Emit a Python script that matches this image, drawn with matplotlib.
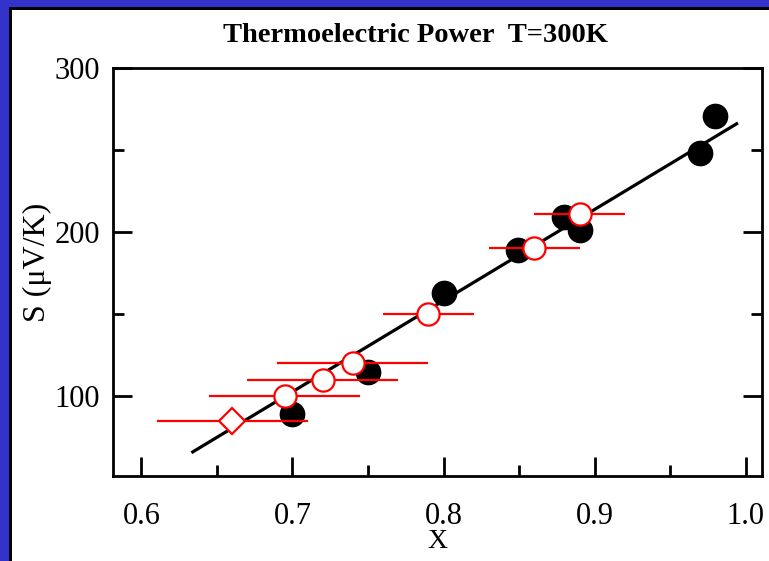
import matplotlib
matplotlib.use("Agg")
import matplotlib.pyplot as plt
from matplotlib.patches import Rectangle
from matplotlib.ticker import MultipleLocator

# Data
x_filled = [0.700, 0.750, 0.800, 0.849, 0.880, 0.890, 0.970, 0.980]
s_filled = [89, 115, 163, 189, 209, 201, 248, 271]

x_open = [0.695, 0.720, 0.740, 0.790, 0.860, 0.890]
s_open = [100, 110, 120, 150, 190, 211]
xerr_open = [0.05, 0.05, 0.05, 0.03, 0.03, 0.03]

x_diamond = [0.660]
s_diamond = [85]
xerr_diamond = [0.05]

fit_x = [0.634, 0.994]
fit_y = [66, 266]

x_ticks = [0.6, 0.7, 0.8, 0.9, 1.0]
x_ticklabels = ['0.6', '0.7', '0.8', '0.9', '1.0']
y_ticks = [100, 200, 300]
y_ticklabels = ['100', '200', '300']

plt.rcParams['font.family'] = ['Liberation Serif', 'DejaVu Serif']

W, H = 769, 561
fig = plt.figure(figsize=(W / 100, H / 100), dpi=100)
fig.patch.set_facecolor('white')

# blue frame (left and top)
fig.patches.append(Rectangle((0, 0), 9 / W, 1, transform=fig.transFigure,
                             facecolor='#3333cc', edgecolor='none', zorder=0))
fig.patches.append(Rectangle((9 / W, 0), 3 / W, 1 - 7 / H, transform=fig.transFigure,
                             facecolor='black', edgecolor='none', zorder=0))
fig.patches.append(Rectangle((0, 1 - 7 / H), 1, 7 / H, transform=fig.transFigure,
                             facecolor='#3333cc', edgecolor='none', zorder=0))
fig.patches.append(Rectangle((9 / W, 1 - 9.5 / H), 1, 2.5 / H, transform=fig.transFigure,
                             facecolor='black', edgecolor='none', zorder=0))

ax_w = 761.7 - 112.7
ax_h = 475.7 - 68
ax = fig.add_axes([112.7 / W, 1 - 475.7 / H, ax_w / W, ax_h / H])
ax.set_xlim(0.581, 1.0106)
ax.set_ylim(51.5, 300)

ax.plot(x_filled, s_filled, 'o', color='black', markersize=17.5, zorder=2)
ax.plot(fit_x, fit_y, '-', color='black', linewidth=2.3, zorder=3)
ax.errorbar(x_open, s_open, xerr=xerr_open, fmt='o', color='red', ecolor='red',
            elinewidth=1.6, markersize=16, markerfacecolor='white',
            markeredgecolor='red', markeredgewidth=1.6, capsize=0, zorder=4)
ax.errorbar(x_diamond, s_diamond, xerr=xerr_diamond, fmt='D', color='red', ecolor='red',
            elinewidth=1.6, markersize=13, markerfacecolor='white',
            markeredgecolor='red', markeredgewidth=1.6, capsize=0, zorder=4)

ax.xaxis.set_minor_locator(MultipleLocator(0.05))
ax.yaxis.set_minor_locator(MultipleLocator(50))
ax.set_xticks(x_ticks)
ax.set_xticklabels(x_ticklabels)
ax.set_yticks(y_ticks)
ax.set_yticklabels(y_ticklabels)

for sp in ax.spines.values():
    sp.set_linewidth(2)
ax.tick_params(which='major', direction='in', length=14, width=2, labelsize=22,
               top=False, right=True, bottom=True, left=True)
ax.tick_params(which='minor', direction='in', length=8, width=2,
               top=False, right=True, bottom=True, left=True)
ax.tick_params(axis='x', which='major', pad=19)
ax.tick_params(axis='y', which='major', pad=9)

ax.set_xlabel('X', fontsize=20)
ax.xaxis.set_label_coords(0.5, (475.7 - 542) / ax_h)
ax.xaxis.label.set_va('center')
ax.set_ylabel('S (μV/K)', fontsize=23)
ax.yaxis.set_label_coords((37 - 112.7) / ax_w, (475.7 - 262) / ax_h)
ax.yaxis.label.set_va('center')

fig.text(415 / W, 1 - 36 / H, 'Thermoelectric Power  T=300K', ha='center', va='center',
         fontsize=20.5, fontweight='bold')

fig.savefig('out.png', dpi=100)
